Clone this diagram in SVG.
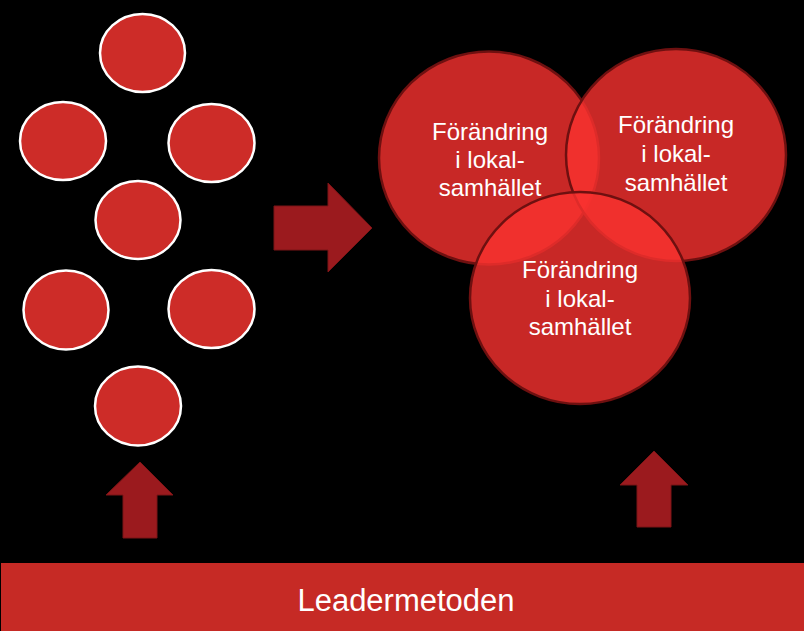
<svg xmlns="http://www.w3.org/2000/svg" width="804" height="631" viewBox="0 0 804 631">
<style>
.dot{fill:#cd2c28;stroke:#ffffff;stroke-width:2.5}
.big{fill:#fa3230;fill-opacity:0.8;stroke:#6e1010;stroke-width:2.5}
.arr{fill:#9b1a1e;stroke:#7a1416;stroke-width:1}
.t{font-family:"Liberation Sans",Arial,sans-serif;font-size:24px;fill:#ffffff;text-anchor:middle}
.bar{fill:#c62a25}
.bt{font-family:"Liberation Sans",Arial,sans-serif;font-size:31px;fill:#ffffff;text-anchor:middle}
</style>
<rect width="804" height="631" fill="#000000"/>
<g id="dots">
<ellipse id="dot1" class="dot" cx="142.5" cy="53" rx="42.5" ry="39"/>
<ellipse id="dot2" class="dot" cx="63" cy="141" rx="43" ry="39"/>
<ellipse id="dot3" class="dot" cx="211.5" cy="143" rx="43" ry="39"/>
<ellipse id="dot4" class="dot" cx="138" cy="220" rx="42.5" ry="39"/>
<ellipse id="dot5" class="dot" cx="66" cy="310" rx="42.5" ry="39.5"/>
<ellipse id="dot6" class="dot" cx="211.5" cy="309" rx="43" ry="39"/>
<ellipse id="dot7" class="dot" cx="138" cy="406" rx="43" ry="39.5"/>
</g>
<g id="connectors">
<polygon id="arrow-right" class="arr" points="274,206 328,206 328,183 372,228 328,272 328,250 274,250"/>
<polygon id="arrow-up-left" class="arr" points="140,462 173,495 157,495 157,538 123,538 123,495 106,495"/>
<polygon id="arrow-up-right" class="arr" points="654,451 688,485 671,485 671,527 637,527 637,485 620,485"/>
</g>
<g id="venn">
<g id="circle-left">
<ellipse class="big" cx="489" cy="158" rx="110" ry="106.5"/>
</g>
<g id="circle-right">
<ellipse class="big" cx="676" cy="155" rx="110" ry="106"/>
</g>
<g id="circle-bottom">
<ellipse class="big" cx="580" cy="298" rx="110" ry="106"/>
</g>
<g id="labels">
<text class="t" x="490" y="140">Förändring</text>
<text class="t" x="490" y="168">i lokal-</text>
<text class="t" x="490" y="196">samhället</text>
<text class="t" x="676" y="133">Förändring</text>
<text class="t" x="676" y="162">i lokal-</text>
<text class="t" x="676" y="191">samhället</text>
<text class="t" x="580" y="278">Förändring</text>
<text class="t" x="580" y="307">i lokal-</text>
<text class="t" x="580" y="335">samhället</text>
</g>
</g>
<g id="leadermetoden">
<rect class="bar" x="1" y="563" width="803" height="68"/>
<text class="bt" x="406" y="611">Leadermetoden</text>
</g>
</svg>
